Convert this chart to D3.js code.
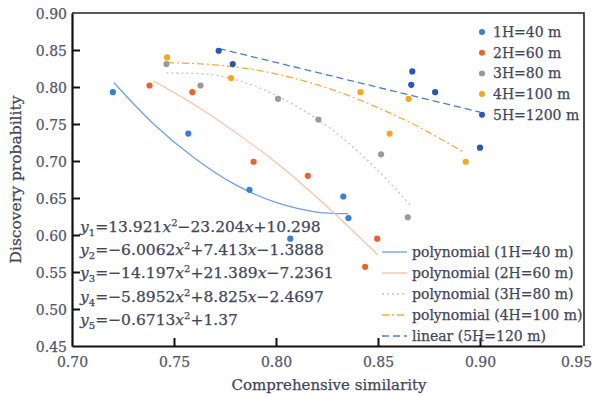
<!DOCTYPE html>
<html>
<head>
<meta charset="utf-8">
<script src="https://cdn.jsdelivr.net/npm/d3@7"></script>
<style>
  body { margin: 0; background: #fff; }
  svg { font-family: "DejaVu Serif", serif; }
</style>
</head>
<body>
<svg id="chart" width="596" height="397"></svg>
<script>
// tick values
const xTicks = [0.70, 0.75, 0.80, 0.85, 0.90, 0.95];
const yTicks = [0.45, 0.50, 0.55, 0.60, 0.65, 0.70, 0.75, 0.80, 0.85, 0.90];

// scatter points [similarity, probability]
const pts1H = [[0.720, 0.793], [0.757, 0.737], [0.787, 0.661], [0.833, 0.652], [0.8355, 0.623], [0.807, 0.595]];
const pts2H = [[0.738, 0.802], [0.759, 0.793], [0.789, 0.699], [0.8156, 0.680], [0.8496, 0.595], [0.8437, 0.557]];
const pts3H = [[0.7463, 0.831], [0.763, 0.802], [0.801, 0.784], [0.8208, 0.756], [0.8515, 0.709], [0.8646, 0.624]];
const pts4H = [[0.7466, 0.840], [0.778, 0.812], [0.8414, 0.793], [0.865, 0.784], [0.8557, 0.737], [0.893, 0.699]];
const pts5H = [[0.7719, 0.849], [0.7788, 0.831], [0.8668, 0.821], [0.8663, 0.803], [0.878, 0.793], [0.900, 0.718]];

// trend lines
const fit1H = [[0.7205, 0.806], [0.74, 0.750], [0.76, 0.704], [0.78, 0.668], [0.80, 0.644], [0.82, 0.631], [0.8355, 0.629]];
const fit2H = [[0.740, 0.808], [0.76, 0.776], [0.78, 0.739], [0.80, 0.698], [0.82, 0.651], [0.85, 0.573]];
const fit3H = [[0.7463, 0.819], [0.77, 0.816], [0.79, 0.801], [0.81, 0.774], [0.83, 0.737], [0.85, 0.687], [0.866, 0.640]];
const fit4H = [[0.7466, 0.833], [0.77, 0.830], [0.79, 0.823], [0.81, 0.811], [0.83, 0.794], [0.85, 0.772], [0.87, 0.746], [0.8926, 0.711]];
const fit5H = [[0.772, 0.852], [0.900, 0.766]];

const pointLabels = ["1H=40 m", "2H=60 m", "3H=80 m", "4H=100 m", "5H=1200 m"];
const fitLabels = ["polynomial (1H=40 m)", "polynomial (2H=60 m)", "polynomial (3H=80 m)", "polynomial (4H=100 m)", "linear (5H=120 m)"];
// equations: subscript + body ; "x" gets italic, "^2" becomes a superscript
const eqSubs = ["1", "2", "3", "4", "5"];
const eqBodies = ["=13.921x^2−23.204x+10.298", "=−6.0062x^2+7.413x−1.3888", "=−14.197x^2+21.389x−7.2361",
  "=−5.8952x^2+8.825x−2.4697", "=−0.6713x^2+1.37"];

const ptColors = ["#3a80d2", "#e8642c", "#9a9a9a", "#f2a71e", "#2857ba"];
const lineColors = ["#6fa2dc", "#f6bfa0", "#c4c4c4", "#f3ad35", "#4c7bd3"];
const lineDash = [null, null, "2,3", "7,3,2,3", "7,4"];

const allPts = [pts1H, pts2H, pts3H, pts4H, pts5H];
const allFits = [fit1H, fit2H, fit3H, fit4H, fit5H];

const margin = { left: 72, right: 14, top: 13, bottom: 51 };
const width = 596, height = 397;
const textCol = "#41465a";

const svg = d3.select("#chart");

const x = d3.scaleLinear().domain([0.70, 0.95]).range([margin.left, width - margin.right]);
const y = d3.scaleLinear().domain([0.45, 0.90]).range([height - margin.bottom, margin.top]);

// frame (top and right)
svg.append("path")
  .attr("d", `M${x(0.70)},${y(0.90)}H${x(0.95) + 2}V${y(0.45)}`)
  .attr("fill", "none").attr("stroke", "#222").attr("stroke-width", 1.6);

// axes with inward ticks
const gx = svg.append("g")
  .attr("transform", `translate(0,${y(0.45)})`)
  .call(d3.axisBottom(x).tickValues(xTicks).tickFormat(d3.format(".2f")).tickSizeInner(-8).tickSizeOuter(0));
const gy = svg.append("g")
  .attr("transform", `translate(${x(0.70)},0)`)
  .call(d3.axisLeft(y).tickValues(yTicks).tickFormat(d3.format(".2f")).tickSizeInner(-8).tickSizeOuter(0));

[gx, gy].forEach(g => {
  g.select(".domain").attr("stroke", "#111").attr("stroke-width", 2.2);
  g.selectAll(".tick line").attr("stroke", "#111").attr("stroke-width", 2);
  g.selectAll(".tick text").attr("font-family", "DejaVu Serif").attr("font-size", 14)
    .attr("fill", "#50566a").attr("stroke", "#50566a").attr("stroke-width", 0.25);
});
gx.selectAll(".tick text").attr("dy", "1.25em");
gx.selectAll(".tick").filter(d => d === 0.95).select("text").attr("x", -6);
gy.selectAll(".tick text").attr("x", -5).attr("dy", "0.38em");
gx.selectAll(".tick").filter(d => d === 0.70 || d === 0.95).select("line").remove();
gy.selectAll(".tick").filter(d => d === 0.45 || d === 0.90).select("line").remove();

// axis titles
svg.append("text")
  .attr("x", (x(0.70) + x(0.95)) / 2 + 2).attr("y", 390)
  .attr("text-anchor", "middle").attr("font-size", 15).attr("fill", textCol)
  .attr("stroke", textCol).attr("stroke-width", 0.25)
  .text("Comprehensive similarity");
svg.append("text")
  .attr("transform", `translate(21,${(y(0.45) + y(0.90)) / 2}) rotate(-90)`)
  .attr("text-anchor", "middle").attr("font-size", 15.5).attr("fill", textCol)
  .attr("stroke", textCol).attr("stroke-width", 0.25)
  .text("Discovery probability");

// trend lines
const line = d3.line().x(d => x(d[0])).y(d => y(d[1])).curve(d3.curveCatmullRom);
allFits.forEach((f, i) => {
  svg.append("path")
    .attr("d", line(f))
    .attr("fill", "none")
    .attr("stroke", lineColors[i])
    .attr("stroke-width", i === 1 ? 1.1 : 1.3)
    .attr("stroke-dasharray", lineDash[i]);
});

// scatter points
allPts.forEach((p, i) => {
  svg.append("g").selectAll("circle").data(p).join("circle")
    .attr("cx", d => x(d[0])).attr("cy", d => y(d[1])).attr("r", 3.1)
    .attr("fill", ptColors[i]);
});

// point legend (top right)
const leg1 = svg.append("g").attr("transform", "translate(482,32)");
pointLabels.forEach((t, i) => {
  const g = leg1.append("g").attr("transform", `translate(0,${i * 20.7})`);
  g.append("circle").attr("r", 3).attr("fill", ptColors[i]);
  g.append("text").attr("x", 11).attr("dy", "0.36em").attr("font-size", 14).attr("fill", textCol)
    .attr("stroke", textCol).attr("stroke-width", 0.25).text(t);
});

// trend legend (bottom right)
const leg2 = svg.append("g").attr("transform", "translate(382,252)");
fitLabels.forEach((t, i) => {
  const g = leg2.append("g").attr("transform", `translate(0,${i * 21})`);
  g.append("line").attr("x1", 0).attr("x2", 25)
    .attr("stroke", lineColors[i]).attr("stroke-width", 1.3).attr("stroke-dasharray", lineDash[i]);
  g.append("text").attr("x", 30).attr("dy", "0.33em").attr("font-size", 14).attr("fill", textCol)
    .attr("stroke", textCol).attr("stroke-width", 0.25).text(t);
});

// equations
eqSubs.forEach((s, i) => {
  const t = svg.append("text").attr("x", 80).attr("y", 232 + i * 23.2)
    .attr("font-size", 15.5).attr("fill", textCol)
    .attr("stroke", textCol).attr("stroke-width", 0.25);
  t.append("tspan").attr("font-style", "italic").text("y");
  t.append("tspan").attr("font-size", 10).attr("dy", 4).text(s);
  let shift = -4; // pending baseline correction
  const parts = eqBodies[i].split(/(x\^2|x)/).filter(d => d !== "");
  parts.forEach(p => {
    if (p === "x^2") {
      t.append("tspan").attr("font-style", "italic").attr("dy", shift || null).text("x");
      t.append("tspan").attr("font-size", 10).attr("dy", -6).text("2");
      shift = 6;
    } else if (p === "x") {
      t.append("tspan").attr("font-style", "italic").attr("dy", shift || null).text("x");
      shift = 0;
    } else {
      t.append("tspan").attr("dy", shift || null).text(p);
      shift = 0;
    }
  });
});
</script>
</body>
</html>
